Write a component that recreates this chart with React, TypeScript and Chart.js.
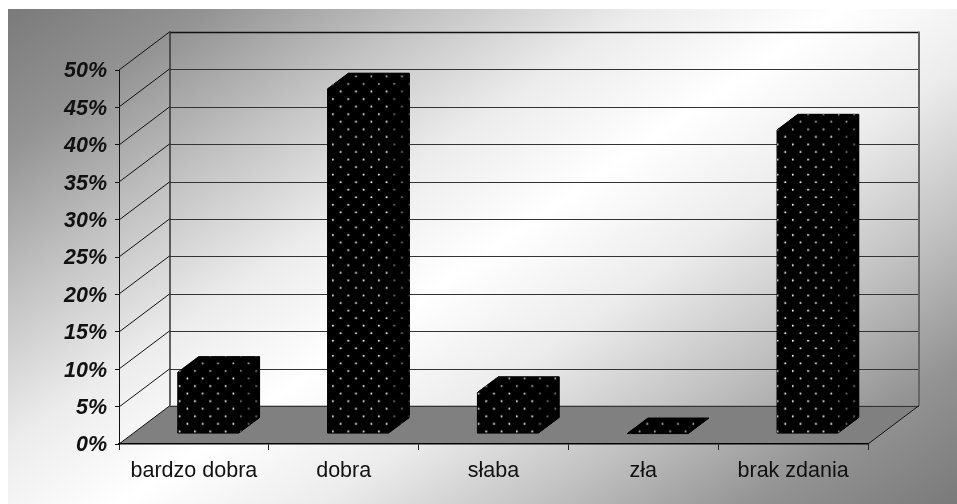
import React, { useEffect, useRef } from "react";
import { Chart, registerables } from "chart.js";

Chart.register(...registerables);

const categories = ["bardzo dobra", "dobra", "słaba", "zła", "brak zdania"];
const percentValues = [8.2, 46.1, 5.5, 0, 40.6];
const axisMax = 50;
const axisStep = 5;

const WALL_DX = 51;
const WALL_DY = -38.4;
const BAR_DX = 20.8;
const BAR_DY = -15.6;
const SHIFT_DX = 14.4;
const SHIFT_DY = -10.4;

function makePattern(ctx: CanvasRenderingContext2D) {
  const c = document.createElement("canvas");
  c.width = 15;
  c.height = 15;
  const p = c.getContext("2d")!;
  p.fillStyle = "#000";
  p.fillRect(0, 0, 15, 15);
  p.fillStyle = "#ffffff";
  [[3.8, 10.8], [11.4, 3.3]].forEach(([x, y]) => {
    p.beginPath();
    p.arc(x, y, 0.95, 0, Math.PI * 2);
    p.fill();
  });
  const pat = ctx.createPattern(c, "repeat")!;
  pat.setTransform(new DOMMatrix().scale(1.022, 1.007));
  return pat;
}

const scene3d = {
  id: "scene3d",
  beforeDraw(chart: any) {
    const { ctx, width, height, chartArea: a, scales } = chart;
    const y = scales.y;
    if (!y.$shifted) {
      y.$shifted = true;
      const orig = y.drawLabels;
      y.drawLabels = function (area: any) {
        ctx.save();
        ctx.translate(0, 1.5);
        orig.call(this, area);
        ctx.restore();
      };
    }
    ctx.save();
    // page background
    const cx = 474;
    const cy = 248;
    const nx = 0.566 * 472;
    const ny = 0.824 * 472;
    const g = ctx.createLinearGradient(cx - nx, cy - ny, cx + nx, cy + ny);
    g.addColorStop(0, "#7a7a7a");
    g.addColorStop(0.12, "#939393");
    g.addColorStop(0.25, "#c2c2c2");
    g.addColorStop(0.38, "#ececec");
    g.addColorStop(0.5, "#ffffff");
    g.addColorStop(0.62, "#ececec");
    g.addColorStop(0.75, "#c2c2c2");
    g.addColorStop(0.88, "#939393");
    g.addColorStop(1, "#7a7a7a");
    ctx.fillStyle = g;
    ctx.fillRect(0, 1, width, height - 1);

    // floor
    ctx.fillStyle = "#808080";
    ctx.beginPath();
    ctx.moveTo(a.left, a.bottom);
    ctx.lineTo(a.right, a.bottom);
    ctx.lineTo(a.right + WALL_DX, a.bottom + WALL_DY);
    ctx.lineTo(a.left + WALL_DX, a.bottom + WALL_DY);
    ctx.closePath();
    ctx.fill();

    // back wall grid + side wall grid
    y.ticks.forEach((t: any) => {
      const py = Math.round(y.getPixelForValue(t.value));
      ctx.strokeStyle = "#111";
      ctx.lineWidth = 1;
      ctx.beginPath();
      ctx.moveTo(a.left, py);
      ctx.lineTo(a.left + WALL_DX, py + WALL_DY);
      ctx.stroke();
      ctx.strokeStyle = t.value === axisMax ? "#111" : "#333";
      ctx.lineWidth = t.value === axisMax ? 1.4 : 1.2;
      ctx.beginPath();
      ctx.moveTo(a.left + WALL_DX, Math.round(py + WALL_DY) + 0.5);
      ctx.lineTo(a.right + WALL_DX, Math.round(py + WALL_DY) + 0.5);
      ctx.stroke();
    });
    // wall verticals
    ctx.lineWidth = 1.5;
    ctx.strokeStyle = "#333";
    ctx.beginPath();
    ctx.moveTo(a.left + WALL_DX, a.top + WALL_DY);
    ctx.lineTo(a.left + WALL_DX, a.bottom + WALL_DY);
    ctx.stroke();
    ctx.strokeStyle = "#666";
    ctx.lineWidth = 2;
    ctx.beginPath();
    ctx.moveTo(a.right + WALL_DX, a.top + WALL_DY);
    ctx.lineTo(a.right + WALL_DX, a.bottom + WALL_DY);
    ctx.stroke();
    // floor right edge
    ctx.strokeStyle = "#111";
    ctx.lineWidth = 1;
    ctx.beginPath();
    ctx.moveTo(a.right, a.bottom);
    ctx.lineTo(a.right + WALL_DX, a.bottom + WALL_DY);
    ctx.stroke();
    ctx.restore();
  },
  beforeDatasetsDraw(chart: any) {
    const { ctx } = chart;
    const pattern = chart.$dots;
    ctx.save();
    ctx.translate(SHIFT_DX, SHIFT_DY);
    chart.getDatasetMeta(0).data.forEach((bar: any) => {
      const x0 = bar.x - bar.width / 2;
      const x1 = bar.x + bar.width / 2;
      const top = bar.y;
      const base = bar.base;
      // solid silhouette so that no seam shows between the faces
      ctx.beginPath();
      ctx.moveTo(x0, base);
      ctx.lineTo(x0, top);
      ctx.lineTo(x0 + BAR_DX, top + BAR_DY);
      ctx.lineTo(x1 + BAR_DX, top + BAR_DY);
      ctx.lineTo(x1 + BAR_DX, base + BAR_DY);
      ctx.lineTo(x1, base);
      ctx.closePath();
      ctx.fillStyle = "#000";
      ctx.strokeStyle = "#000";
      ctx.lineWidth = 1;
      ctx.lineJoin = "round";
      ctx.fill();
      ctx.stroke();
      const faces: [number, number][][] = [
        [[x0, top], [x0 + BAR_DX, top + BAR_DY], [x1 + BAR_DX, top + BAR_DY], [x1, top]],
        [[x1, top], [x1 + BAR_DX, top + BAR_DY], [x1 + BAR_DX, base + BAR_DY], [x1, base]],
      ];
      faces.forEach((f, i) => {
        ctx.beginPath();
        f.forEach(([px, py], k) => (k ? ctx.lineTo(px, py) : ctx.moveTo(px, py)));
        ctx.closePath();
        ctx.fillStyle = pattern;
        ctx.fill();
        ctx.fillStyle = i === 0 ? "rgba(0,0,0,0.25)" : "rgba(0,0,0,0.5)";
        ctx.fill();
      });
    });
    ctx.restore();
    ctx.save();
    ctx.translate(SHIFT_DX, SHIFT_DY);
  },
  afterDatasetsDraw(chart: any) {
    chart.ctx.restore();
  },
};

export default function App() {
  const ref = useRef<HTMLCanvasElement>(null);
  useEffect(() => {
    const canvas = ref.current!;
    const ctx = canvas.getContext("2d")!;
    const dots = makePattern(ctx);
    const chart: any = new Chart(canvas, {
      type: "bar",
      data: {
        labels: categories,
        datasets: [
          {
            data: percentValues,
            backgroundColor: dots,
            borderWidth: 0,
            barPercentage: 0.407,
            categoryPercentage: 1,
            clip: false,
          } as any,
        ],
      },
      options: {
        animation: false,
        responsive: false,
        layout: { padding: { left: 0, right: 89, top: 62, bottom: 0 } },
        plugins: { legend: { display: false }, tooltip: { enabled: false } },
        scales: {
          x: {
            offset: true,
            afterFit: (s: any) => {
              s.height = 60;
            },
            grid: {
              offset: true,
              drawOnChartArea: false,
              color: "#222",
              tickLength: 6,
              lineWidth: 1,
            },
            border: { color: "#000", width: 1.5 },
            ticks: {
              color: "#111",
              maxRotation: 0,
              padding: 8,
              font: { family: "'Liberation Sans'", size: 21.5 },
            },
          },
          y: {
            min: 0,
            max: axisMax,
            afterFit: (s: any) => {
              s.width = 111;
            },
            grid: { drawOnChartArea: false, color: "#111", tickLength: 4 },
            border: { color: "#111", width: 1 },
            ticks: {
              stepSize: axisStep,
              color: "#111",
              padding: 8,
              callback: (v: any) => v + "%",
              font: { family: "'Liberation Sans'", size: 21.5, weight: "bold", style: "italic" },
            },
          },
        },
      },
      plugins: [scene3d],
    } as any);
    chart.$dots = dots;
    chart.draw();
    return () => chart.destroy();
  }, []);
  return (
    <canvas
      ref={ref}
      width={949}
      height={496}
      style={{ position: "absolute", left: 8, top: 8, display: "block" }}
    />
  );
}
